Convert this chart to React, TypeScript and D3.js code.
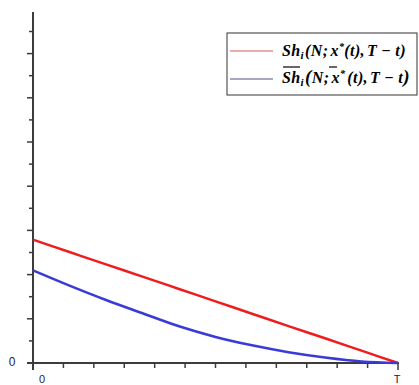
import React from "react";
import * as d3 from "d3";

const W = 419;
const H = 385;

// time as fraction of horizon T
const tValues = [0, 0.1, 0.2, 0.3, 0.4, 0.5, 0.6, 0.7, 0.8, 0.9, 1.0];
const redValues = [5.58, 5.02, 4.46, 3.91, 3.35, 2.79, 2.23, 1.67, 1.12, 0.56, 0];
const blueValues = [4.19, 3.5, 2.85, 2.25, 1.66, 1.18, 0.8, 0.49, 0.25, 0.07, 0];

const xTicks = d3.range(0, 13).map((i) => i / 12);
const yTicks = d3.range(0, 16);
const xTickLabels = [
  { v: 0, label: "0" },
  { v: 1, label: "T" },
];

export default function App() {
  const x = d3.scaleLinear().domain([0, 1]).range([33, 398]);
  const y = d3.scaleLinear().domain([0, 15]).range([363, 363 - 15 * 22.1]);

  const line = d3
    .line<number>()
    .x((_, i) => x(tValues[i]))
    .y((d) => y(d))
    .curve(d3.curveMonotoneX);

  const axisColor = "#3c3c3c";
  const serif = "'Liberation Serif', 'DejaVu Serif', serif";
  const fs = 16;

  return (
    <svg
      width={W}
      height={H}
      style={{ position: "absolute", left: 0, top: 0, background: "#fff" }}
    >
      {/* y axis */}
      <line x1={33} x2={33} y1={12} y2={370} stroke={axisColor} strokeWidth={2} />
      {yTicks.map((v, i) =>
        i === 0 ? null : (
          <line
            key={"yt" + i}
            x1={i % 2 === 0 ? 27 : 29}
            x2={33}
            y1={y(v)}
            y2={y(v)}
            stroke={axisColor}
            strokeWidth={1.5}
          />
        )
      )}
      {/* x axis */}
      <line x1={27} x2={399} y1={363} y2={363} stroke={axisColor} strokeWidth={2} />
      {xTicks.map((v, i) => (
        <line
          key={"xt" + i}
          x1={x(v)}
          x2={x(v)}
          y1={363}
          y2={i === 0 || i === 12 ? 370 : 368}
          stroke={axisColor}
          strokeWidth={1.5}
        />
      ))}
      {/* labels */}
      <text
        x={12}
        y={366}
        fontSize={12}
        fontFamily="'Liberation Sans', Arial, sans-serif"
        fill="#1c2440"
        textAnchor="middle"
      >
        0
      </text>
      {xTickLabels.map((d) => (
        <text
          key={d.label}
          x={d.v === 0 ? x(d.v) + 9 : x(d.v) - 1}
          y={383}
          fontSize={11}
          fontFamily="'Liberation Sans', Arial, sans-serif"
          fill="#1c2440"
          textAnchor="middle"
        >
          {d.label}
        </text>
      ))}

      {/* series */}
      <path d={line(redValues) || ""} fill="none" stroke="#f01c1c" strokeWidth={2.5} />
      <path d={line(blueValues) || ""} fill="none" stroke="#3a3ad8" strokeWidth={2.5} />

      {/* legend */}
      <rect x={227} y={33} width={190} height={62} fill="#fff" stroke="#555" strokeWidth={1.2} />
      <line x1={230} x2={273} y1={51} y2={51} stroke="#e09090" strokeWidth={1.5} />
      <line x1={230} x2={273} y1={79} y2={79} stroke="#8a8ab0" strokeWidth={1.5} />
      <g
        fontFamily={serif}
        fontWeight="bold"
        fontStyle="italic"
        fill="#000"
        fontSize={fs}
        style={{ letterSpacing: "0.4px" }}
      >
        <text x={282} y={56}>
          Sh<tspan dy={3} fontSize={11}>i</tspan>
          <tspan dy={-3} dx={1}>(N;</tspan>
          <tspan dx={2}>x</tspan>
          <tspan dy={-6} fontSize={10}>*</tspan>
          <tspan dy={6}>(t),</tspan>
          <tspan dx={2}>T</tspan>
          <tspan dx={4}>−</tspan>
          <tspan dx={4}>t)</tspan>
        </text>
        <text x={282} y={83}>
          Sh<tspan dy={3} fontSize={11}>i</tspan>
          <tspan dy={-3} dx={1} fontSize={19}>(</tspan>
          <tspan>N;</tspan>
          <tspan dx={2}>x</tspan>
          <tspan dy={-6} fontSize={10}>*</tspan>
          <tspan dy={6} dx={2}>(t),</tspan>
          <tspan dx={2}>T</tspan>
          <tspan dx={4}>−</tspan>
          <tspan dx={4}>t</tspan>
          <tspan fontSize={19}>)</tspan>
        </text>
      </g>
      {/* overlines for the averaged series */}
      <line x1={283} x2={300} y1={67} y2={67} stroke="#000" strokeWidth={1.2} />
      <line x1={329} x2={337} y1={67} y2={67} stroke="#000" strokeWidth={1.2} />
    </svg>
  );
}
